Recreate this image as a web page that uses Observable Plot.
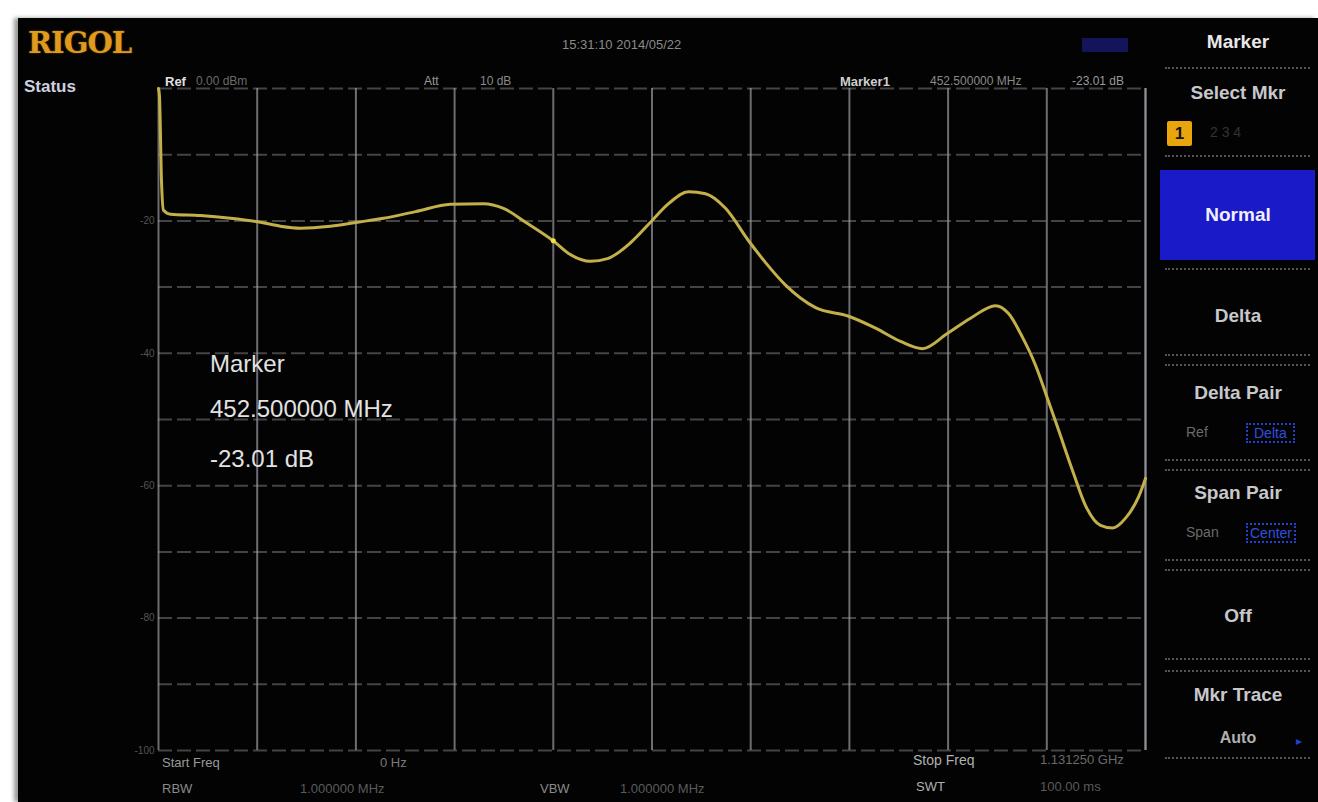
<!DOCTYPE html>
<html>
<head>
<meta charset="utf-8">
<script src="https://cdn.jsdelivr.net/npm/d3@7"></script>
<script src="https://cdn.jsdelivr.net/npm/@observablehq/plot@0.6"></script>
<style>
  body { margin:0; width:1318px; height:802px; overflow:hidden; position:relative; background:#fff; font-family:"Liberation Sans", Arial, sans-serif; }
  #screen { position:absolute; left:18px; top:18px; width:1300px; height:784px; background:#030303; box-shadow:-4px 0 4px #999; }
  #chart { position:absolute; left:18px; top:18px; }
  .t { position:absolute; white-space:nowrap; }
  .menu { position:absolute; left:1158px; width:160px; text-align:center; font-weight:bold; color:#c8c8cc; font-size:19px; }
  .sep { position:absolute; left:1165px; width:145px; border-top:2px dotted #555; }
</style>
</head>
<body>
<div id="screen"></div>
<div id="chart"></div>
<script>
// ---- data ----
const startFreqMHz = 0;
const stopFreqMHz = 1131.25;
const refLevel = 0;      // dBm
const dbPerDiv = 10;
const freqMHz = [0, 1.1, 3.4, 5.7, 13.8, 48.1, 82.5, 116.9, 139.8, 162.8, 197.1, 228.1, 257.9, 294.6, 334.7, 372.5, 395.4, 420.7, 452.5, 472.2, 495.2, 514.6, 541.0, 563.9, 584.6, 607.5, 627.0, 649.9, 676.3, 695.8, 718.7, 753.1, 790.9, 821.9, 850.5, 875.7, 903.2, 930.7, 959.4, 974.3, 990.3, 1005.2, 1017.8, 1031.6, 1047.6, 1062.5, 1079.7, 1093.5, 1108.4, 1123.3, 1131.25];
const levelDb = [0, -1.1, -13.9, -18.4, -19.0, -19.2, -19.6, -20.2, -20.8, -21.1, -20.8, -20.2, -19.6, -18.6, -17.5, -17.4, -18.1, -20.2, -23.01, -25.1, -26.1, -25.7, -23.3, -20.2, -17.4, -15.6, -15.9, -18.1, -23.0, -26.3, -29.7, -33.1, -34.4, -36.2, -38.2, -39.3, -37.1, -34.7, -32.8, -34.0, -37.6, -41.8, -46.4, -51.6, -57.7, -63.0, -66.0, -66.4, -64.9, -61.7, -58.9];
const markerFreqMHz = [452.5];
const markerDb = [-23.01];
const yTicks = [0, -10, -20, -30, -40, -50, -60, -70, -80, -90, -100];
const xTicks = d3.range(0, 11).map(i => startFreqMHz + i * (stopFreqMHz - startFreqMHz) / 10);
const menuItems = ["Marker", "Select Mkr", "Normal", "Delta", "Delta Pair", "Span Pair", "Off", "Mkr Trace", "Auto"];

const trace = freqMHz.map((f, i) => ({f, db: levelDb[i]}));
const marker = markerFreqMHz.map((f, i) => ({f, db: markerDb[i]}));

const chart = Plot.plot({
  width: 1300,
  height: 784,
  marginLeft: 140,
  marginRight: 173,
  marginTop: 70,
  marginBottom: 52,
  style: {background: "transparent", color: "#666", fontFamily: "Liberation Sans, Arial, sans-serif"},
  x: {domain: [startFreqMHz, stopFreqMHz], axis: null},
  y: {domain: [refLevel - 10 * dbPerDiv, refLevel], axis: null},
  marks: [
    Plot.ruleY(yTicks, {stroke: "#7a7a80", strokeWidth: 2, strokeOpacity: 0.55, strokeDasharray: "14,5"}),
    Plot.ruleX(xTicks, {stroke: "#9a9aa2", strokeWidth: 2, strokeOpacity: 0.7}),
    Plot.ruleX([stopFreqMHz], {stroke: "#9a9aa2", strokeWidth: 2, strokeOpacity: 0.8}),
    Plot.text(yTicks.filter(d => d % 20 === 0 && d !== 0), {x: startFreqMHz, y: d => d, text: d => String(d), dx: -4, textAnchor: "end", fill: "#555", fontSize: 10}),
    Plot.line(trace, {x: "f", y: "db", stroke: "#c4b04a", strokeWidth: 3, curve: "monotone-x"}),
    Plot.dot(marker, {x: "f", y: "db", r: 2.5, fill: "#f0e040", stroke: "none"})
  ]
});
document.getElementById("chart").appendChild(chart);

// ---- overlays (instrument screen text) ----
function addText(txt, x, y, css) {
  const d = document.createElement("div");
  d.className = "t";
  d.textContent = txt;
  d.style.left = x + "px";
  d.style.top = y + "px";
  Object.assign(d.style, css || {});
  document.body.appendChild(d);
  return d;
}
// logo
addText("RIGOL", 28, 26, {fontFamily: "DejaVu Serif, serif", fontWeight: "bold", fontSize: "29px", color: "#e09a1e", letterSpacing: "-1px", textShadow: "0 0 2px #7a5a10"});
addText("15:31:10  2014/05/22", 562, 37, {fontSize: "13px", color: "#8a8a8a"});
const batt = addText("", 1082, 38, {width: "46px", height: "14px", background: "#14145a"});
addText("Status", 24, 77, {fontSize: "17px", fontWeight: "bold", color: "#cfd0e0"});
addText("Ref", 165, 74, {fontSize: "13px", fontWeight: "bold", color: "#e0e0e0"});
addText("0.00 dBm", 196, 74, {fontSize: "12px", color: "#6a6a6a"});
addText("Att", 424, 74, {fontSize: "12px", color: "#9a9a9a"});
addText("10 dB", 480, 74, {fontSize: "12px", color: "#8a8a8a"});
addText("Marker1", 840, 74, {fontSize: "13px", fontWeight: "bold", color: "#cfcfcf"});
addText("452.500000 MHz", 930, 74, {fontSize: "12px", color: "#8a8a8a"});
addText("-23.01 dB", 1072, 74, {fontSize: "12px", color: "#9a9a9a"});

// marker readout
addText("Marker", 210, 350, {fontSize: "24px", color: "#e2e2e2"});
addText("452.500000 MHz", 210, 395, {fontSize: "24px", color: "#e2e2e2"});
addText("-23.01 dB", 210, 445, {fontSize: "24px", color: "#e2e2e2"});

// bottom status
addText("Start Freq", 162, 755, {fontSize: "13px", color: "#9a9a9a"});
addText("0 Hz", 380, 755, {fontSize: "13px", color: "#7a7a7a"});
addText("Stop Freq", 913, 752, {fontSize: "14px", color: "#b0b0b0"});
addText("1.131250 GHz", 1040, 752, {fontSize: "13px", color: "#6a6a6a"});
addText("RBW", 162, 781, {fontSize: "13px", color: "#8a8a8a"});
addText("1.000000 MHz", 300, 781, {fontSize: "13px", color: "#5a5a5a"});
addText("VBW", 540, 781, {fontSize: "13px", color: "#8a8a8a"});
addText("1.000000 MHz", 620, 781, {fontSize: "13px", color: "#5a5a5a"});
addText("SWT", 916, 779, {fontSize: "13px", color: "#b0b0b0"});
addText("100.00 ms", 1040, 779, {fontSize: "13px", color: "#5a5a5a"});

// right menu
function menu(txt, y, css) {
  const d = document.createElement("div");
  d.className = "menu";
  d.textContent = txt;
  d.style.top = y + "px";
  Object.assign(d.style, css || {});
  document.body.appendChild(d);
}
function sep(y) {
  const d = document.createElement("div");
  d.className = "sep";
  d.style.top = y + "px";
  document.body.appendChild(d);
}
menu(menuItems[0], 31, {color: "#e8e8e8"});
sep(67);
menu(menuItems[1], 82);
addText("1", 1167, 121, {width: "25px", height: "25px", background: "#e8a60c", color: "#111", fontWeight: "bold", fontSize: "17px", textAlign: "center", lineHeight: "25px", borderRadius: "2px"});
addText("2     3     4", 1210, 124, {fontSize: "14px", color: "#333"});
sep(155);
const blue = addText("", 1160, 170, {width: "155px", height: "90px", background: "#1a1ac8"});
menu(menuItems[2], 204, {color: "#f0f0ff"});
sep(268);
menu(menuItems[3], 305);
sep(354); sep(364);
menu(menuItems[4], 382);
addText("Ref", 1186, 424, {fontSize: "14px", color: "#6a6a6a"});
addText("Delta", 1246, 423, {fontSize: "14px", color: "#3050e0", border: "2px dotted #2040d0", padding: "0 6px"});
sep(459); sep(469);
menu(menuItems[5], 482);
addText("Span", 1186, 524, {fontSize: "14px", color: "#6a6a6a"});
addText("Center", 1246, 523, {fontSize: "14px", color: "#3050e0", border: "2px dotted #2040d0", padding: "0 2px"});
sep(559); sep(569);
menu(menuItems[6], 605);
sep(658); sep(670);
menu(menuItems[7], 684);
menu(menuItems[8], 729, {fontSize: "16px", color: "#b0b0b0"});
addText("▸", 1296, 734, {fontSize: "12px", color: "#2040d0"});
sep(757);
</script>
</body>
</html>
